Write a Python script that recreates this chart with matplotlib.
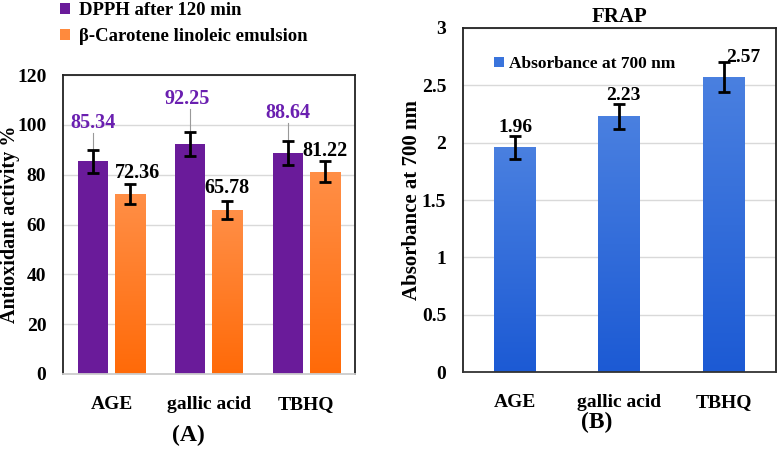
import numpy as np
import matplotlib.pyplot as plt
from matplotlib.colors import LinearSegmentedColormap
from matplotlib.patches import Patch

# data
categories = ['AGE', 'gallic acid', 'TBHQ']
dpph = [85.34, 92.25, 88.64]
dpph_err = [4.5, 4.8, 4.8]
carotene = [72.36, 65.78, 81.22]
carotene_err = [4.0, 3.5, 4.2]
frap = [1.96, 2.23, 2.57]
frap_err = [0.10, 0.11, 0.13]

plt.rcParams['font.family'] = ['Liberation Serif', 'DejaVu Serif']
plt.rcParams['font.weight'] = 'bold'
plt.rcParams['axes.titleweight'] = 'bold'
plt.rcParams['axes.labelweight'] = 'bold'

purple = '#6a1b9a'
orange_cm = LinearSegmentedColormap.from_list('or', ['#ff6a08', '#ff8f47'])
blue_cm = LinearSegmentedColormap.from_list('bl', ['#1c5ad4', '#4a80e0'])


def gradient_bars(ax, bars, cmap):
	grad = np.linspace(0, 1, 256).reshape(-1, 1)
	for b in bars:
		b.set_facecolor('none')
		x0, y0 = b.get_x(), b.get_y()
		w, h = b.get_width(), b.get_height()
		im = ax.imshow(grad, cmap=cmap, origin='lower', aspect='auto',
			extent=[x0, x0 + w, y0, y0 + h], zorder=2)
		im.set_clip_path(b)


def style(ax, ymax, step, bottom_col):
	ax.set_xlim(-0.5, 2.5)
	ax.set_ylim(0, ymax)
	ax.set_yticks(np.arange(0, ymax + step / 2, step))
	ax.yaxis.grid(True, color='#d9d9d9', linewidth=1)
	ax.set_axisbelow(True)
	ax.tick_params(length=0, labelsize=14)
	ax.tick_params(axis='x', labelsize=14, pad=16)
	ax.tick_params(axis='y', pad=12)
	for s in ['left', 'top', 'right']:
		ax.spines[s].set_color('#222222')
		ax.spines[s].set_linewidth(1.3)
	ax.spines['bottom'].set_color(bottom_col)
	ax.spines['bottom'].set_linewidth(1.3)
	ax.set_xticks(range(len(categories)))
	ax.set_xticklabels(categories)


fig = plt.figure(figsize=(7.78, 4.5), dpi=100)
axA = fig.add_axes([0.081, 0.169, 0.375, 0.664])
axB = fig.add_axes([0.595, 0.173, 0.402, 0.765])

x = np.arange(len(categories))
ek = dict(ecolor='black', elinewidth=2, capsize=4, capthick=2, zorder=4)

# panel A
style(axA, 120, 20, '#cccccc')
axA.bar(x - 0.19, dpph, 0.31, color=purple, zorder=2)
axA.errorbar(x - 0.19, dpph, yerr=dpph_err, fmt='none', **ek)
bo = axA.bar(x + 0.19, carotene, 0.31, color='#ff7a22', zorder=2)
gradient_bars(axA, bo, orange_cm)
axA.errorbar(x + 0.19, carotene, yerr=carotene_err, fmt='none', **ek)

dpph_lab_y = [100.7, 110.4, 104.7]
dpph_lab_dx = [-0.19, -0.22, -0.19]
for i, v in enumerate(dpph):
	xl = i + dpph_lab_dx[i]
	axA.text(xl, dpph_lab_y[i], f'{v:.2f}', color='#6a1fb0', fontsize=14.5,
		ha='center', va='center', zorder=5)
	axA.plot([i - 0.19, i - 0.19], [dpph[i] + dpph_err[i], dpph_lab_y[i] - 4],
		color='#999999', linewidth=0.8, zorder=3)
car_lab_y = [80.7, 74.6, 89.5]
car_lab_dx = [0.27, 0.19, 0.19]
for i, v in enumerate(carotene):
	axA.text(i + car_lab_dx[i], car_lab_y[i], f'{v:.2f}', color='black',
		fontsize=14.5, ha='center', va='center', zorder=5)

axA.set_ylabel('Antioxidant activity %', fontsize=14.5)
axA.yaxis.set_label_coords(-0.148, 0.5)
handles_a = [Patch(facecolor=purple), Patch(facecolor='#ff8a3d')]
fig.legend(handles_a, ['DPPH after 120 min', '\u03b2-Carotene linoleic emulsion'],
	loc='upper left', bbox_to_anchor=(58 / 778, 1.0), frameon=False,
	fontsize=13.5, handlelength=0.55, handleheight=0.55, handletextpad=0.45,
	borderaxespad=0, labelspacing=0.5, borderpad=0.1)
fig.text(188 / 778, 1 - 435 / 450, '(A)', fontsize=17, ha='center', va='center')

# panel B
style(axB, 3, 0.5, '#333333')
axB.set_yticks(np.arange(0, 3.01, 0.5))
axB.set_yticklabels(['0', '0.5', '1', '1.5', '2', '2.5', '3'])
bb = axB.bar(x, frap, 0.4, color='#3470dc', zorder=2)
gradient_bars(axB, bb, blue_cm)
axB.errorbar(x, frap, yerr=frap_err, fmt='none', **ek)
frap_lab_y = [2.13, 2.41, 2.74]
frap_lab_dx = [0.0, 0.04, 0.19]
for i, v in enumerate(frap):
	axB.text(i + frap_lab_dx[i], frap_lab_y[i], f'{v:.2f}', fontsize=14,
		ha='center', va='center', zorder=5)
axB.set_title('FRAP', fontsize=15, pad=4)
axB.set_ylabel('Absorbance at 700 nm', fontsize=15)
axB.yaxis.set_label_coords(-0.13, 0.5)
axB.legend([Patch(facecolor='#3a74dc')], ['Absorbance at 700 nm'],
	loc='center left', bbox_to_anchor=(0.1, 0.895), frameon=False,
	fontsize=12.5, handlelength=0.55, handleheight=0.55, handletextpad=0.3,
	borderaxespad=0, borderpad=0)
fig.text(597 / 778, 1 - 422 / 450, '(B)', fontsize=17, ha='center', va='center')

fig.savefig('out.png', dpi=100)
